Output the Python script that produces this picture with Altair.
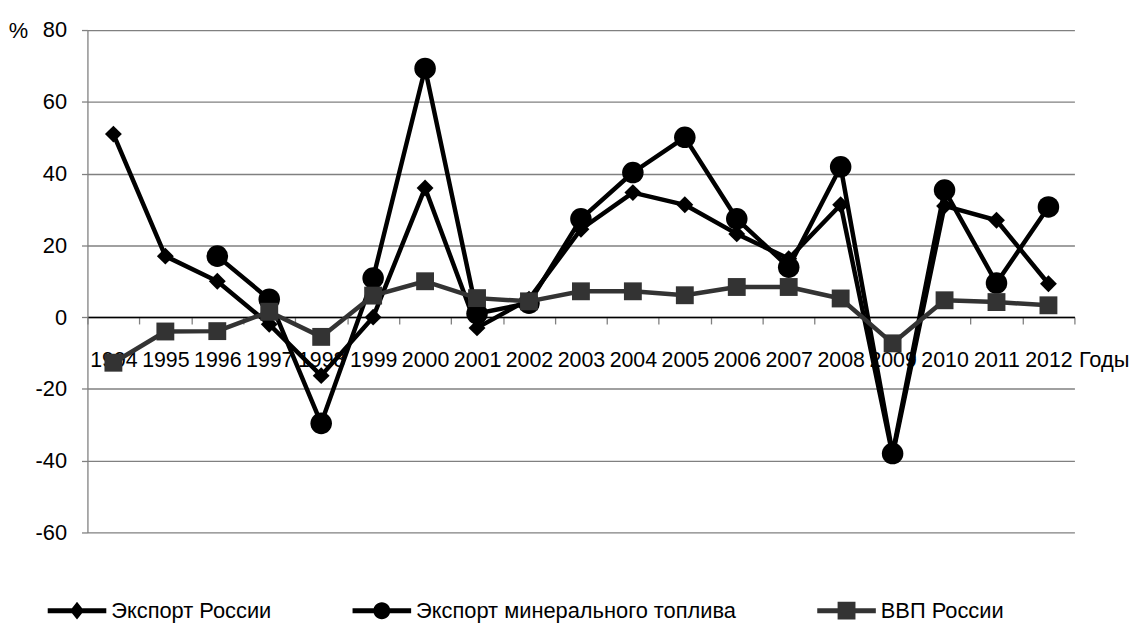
import altair as alt
import pandas as pd

# ---- data ----
years = ["1994", "1995", "1996", "1997", "1998", "1999", "2000", "2001", "2002", "2003",
         "2004", "2005", "2006", "2007", "2008", "2009", "2010", "2011", "2012"]
export_russia = [51, 17, 10, -2, -16.3, 0, 36, -3, 5, 24.5,
                 34.7, 31.3, 23.2, 16.3, 31.3, -38.5, 31, 27, 9.3]
export_fuel = [None, None, 17, 5, -29.6, 10.9, 69.3, 1, 3.9, 27.4,
               40.3, 50.1, 27.4, 13.9, 41.9, -38, 35.4, 9.5, 30.7]
gdp_russia = [-12.7, -4, -3.9, 1.5, -5.5, 6, 10, 5.3, 4.4, 7.2,
              7.2, 6.1, 8.4, 8.4, 5.2, -7.3, 4.7, 4.2, 3.3]

series_names = ["Экспорт России", "Экспорт минерального топлива", "ВВП России"]
series_colors = ["#000000", "#000000", "#333333"]
marker_shapes = ["diamond", "circle", "square"]
marker_sizes = [289, 470, 324]
legend_paths = [
    "M-1,-0.085H1V0.085H-1Z M0,-0.3L0.24,0L0,0.3L-0.24,0Z",
    "M-1,-0.085H1V0.085H-1Z M0.29,0A0.29,0.29,0,1,1,-0.29,0A0.29,0.29,0,1,1,0.29,0Z",
    "M-1,-0.085H1V0.085H-1Z M-0.305,-0.305H0.305V0.305H-0.305Z",
]
y_ticks = [80, 60, 40, 20, 0, -20, -40, -60]

rows = []
for name, vals in zip(series_names, [export_russia, export_fuel, gdp_russia]):
    for yr, v in zip(years, vals):
        rows.append({"year": yr, "series": name, "value": v})
df = pd.DataFrame(rows)

FONT = "Liberation Sans, Arial, sans-serif"

x_enc = alt.X(
    "year:N", sort=years,
    scale=alt.Scale(type="band", paddingInner=0, paddingOuter=0),
    axis=alt.Axis(
        orient="bottom", offset=-217, title="Годы",
        titleX=998, titleY=50, titleAlign="left", titleBaseline="alphabetic",
        titleFont=FONT, titleFontSize=22, titleFontWeight="normal", titleColor="#000000",
        labelFont=FONT, labelFontSize=21.5, labelColor="#000000", labelAngle=0,
        labelBaseline="alphabetic", labelPadding=43, labelOverlap=False,
        tickBand="extent", tickSize=7, tickColor="#808080", tickWidth=1.3,
        domainColor="#000000", domainWidth=1.5, grid=False,
    ),
)
y_enc = alt.Y(
    "value:Q",
    scale=alt.Scale(domain=[-60, 80], nice=False, zero=False),
    axis=alt.Axis(
        values=y_ticks, title="%", titleAngle=0, titleX=-70, titleY=1,
        titleAlign="center", titleBaseline="middle",
        titleFont=FONT, titleFontSize=22, titleFontWeight="normal", titleColor="#000000",
        labelFont=FONT, labelFontSize=22, labelColor="#000000", labelPadding=15,
        labelExpr="replace(datum.label, '\u2212', '-')",
        tickSize=6, tickColor="#808080", tickWidth=1.3,
        grid=True, gridColor="#808080", gridWidth=1.3,
        domainColor="#808080", domainWidth=1.3,
    ),
)

layers = []
for i, name in enumerate(series_names):
    base = alt.Chart(df).transform_filter(alt.datum.series == name)
    line = base.mark_line(color=series_colors[i], strokeWidth=4.5, strokeJoin="round").encode(
        x=x_enc, y=y_enc)
    pts = base.mark_point(filled=True, opacity=1, shape=marker_shapes[i],
                          size=marker_sizes[i], color=series_colors[i],
                          strokeWidth=0).encode(x=x_enc, y=y_enc)
    layers += [line, pts]

leg = alt.Legend(title=None, orient="none", legendX=-40, legendY=555,
                 direction="horizontal", symbolSize=3481, symbolStrokeWidth=0,
                 symbolOpacity=1, labelFont=FONT, labelFontSize=22, labelColor="#000000",
                 labelOffset=5, labelLimit=600, columnPadding=81, padding=0)

legend_layer = alt.Chart(df).mark_point(filled=True, opacity=0).encode(
    x=x_enc, y=y_enc,
    color=alt.Color("series:N", scale=alt.Scale(domain=series_names, range=series_colors), legend=leg),
    shape=alt.Shape("series:N", scale=alt.Scale(domain=series_names, range=legend_paths), legend=leg),
)

chart = alt.layer(*layers, legend_layer).properties(
    width=994, height=506,
    autosize=alt.AutoSizeParams(type="none"),
    padding={"left": 80, "top": 20, "right": 59, "bottom": 92},
).configure(font=FONT).configure_view(stroke=None)

chart.save("out.html", embed_options={"renderer": "svg", "actions": False})
